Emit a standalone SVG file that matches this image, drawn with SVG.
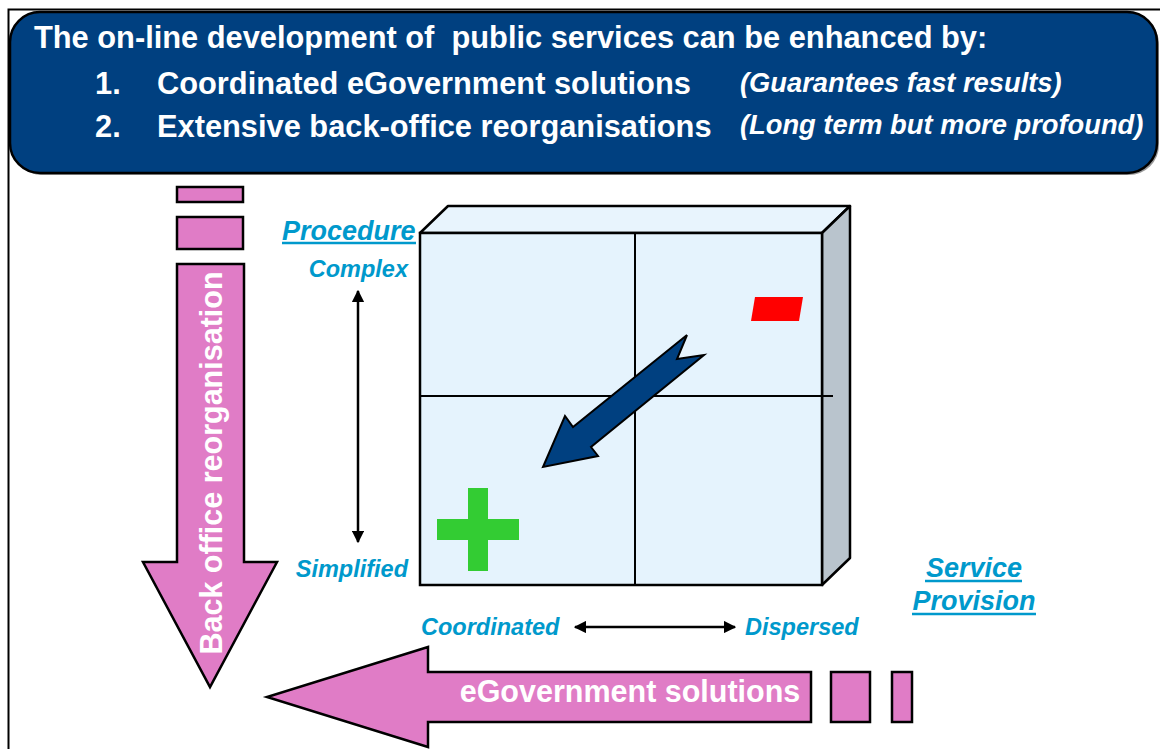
<svg xmlns="http://www.w3.org/2000/svg" width="1160" height="749" viewBox="0 0 1160 749">
<style>
.hdr{font-family:"Liberation Sans",Arial,sans-serif;font-weight:bold;fill:#fff;font-size:30.8px}
.hdri{font-family:"Liberation Sans",Arial,sans-serif;font-weight:bold;font-style:italic;fill:#fff;font-size:27.3px}
.lbl{font-family:"Liberation Sans",Arial,sans-serif;font-weight:bold;font-style:italic;fill:#0099CC;font-size:23.5px}
.ttl{font-family:"Liberation Sans",Arial,sans-serif;font-weight:bold;font-style:italic;fill:#0099CC;font-size:27px}
.pink{fill:#E07CC6;stroke:#000;stroke-width:2.5;stroke-linejoin:miter}
.wt{font-family:"Liberation Sans",Arial,sans-serif;font-weight:bold;fill:#fff;font-size:30.5px}
.ln{stroke:#000;stroke-width:2.5;fill:none}
.ul{stroke:#0099CC;stroke-width:2.5}
</style>
<defs>
<marker id="ah" viewBox="0 0 10 10" refX="9" refY="5" markerWidth="5" markerHeight="5" orient="auto-start-reverse" markerUnits="strokeWidth">
<path d="M0,0 L10,5 L0,10 Z" fill="#000"/>
</marker>
</defs>
<rect width="1160" height="749" fill="#fff"/>
<!-- frame -->
<path d="M8.5,749 V9.5 H1160" fill="none" stroke="#000" stroke-width="2"/>

<g id="header">
<rect x="12" y="14" width="1147" height="161" rx="30" ry="30" fill="#999"/>
<rect x="10" y="12" width="1147" height="161" rx="30" ry="30" fill="#004080" stroke="#000" stroke-width="2.5"/>
<text class="hdr" x="34" y="48" xml:space="preserve">The on-line development of  public services can be enhanced by:</text>
<text class="hdr" x="95" y="94">1.</text>
<text class="hdr" x="157" y="94">Coordinated eGovernment solutions</text>
<text class="hdri" x="740" y="92">(Guarantees fast results)</text>
<text class="hdr" x="95" y="137">2.</text>
<text class="hdr" x="157" y="137">Extensive back-office reorganisations</text>
<text class="hdri" x="740" y="134">(Long term but more profound)</text>
</g>

<g id="back-office-arrow">
<rect class="pink" x="177" y="187" width="66" height="15"/>
<rect class="pink" x="177" y="217" width="66" height="32"/>
<polygon class="pink" points="177,264 244,264 244,562 277,562 210,687 143,562 177,562"/>
<text class="wt" transform="translate(222,463) rotate(-90)" text-anchor="middle">Back office reorganisation</text>
</g>

<g id="egov-arrow">
<rect class="pink" x="831" y="672" width="39" height="50"/>
<rect class="pink" x="892" y="672" width="20" height="50"/>
<polygon class="pink" points="811,672 811,722 428,722 428,747 267,697 428,647 428,672"/>
<text class="wt" x="630" y="702" text-anchor="middle">eGovernment solutions</text>
</g>

<g id="cube">
<polygon points="420,233 448,206 850,206 822,233" fill="#E8F4FD" stroke="#000" stroke-width="2.5" stroke-linejoin="round"/>
<polygon points="822,233 850,206 850,558 822,585" fill="#B9C4CD" stroke="#000" stroke-width="2.5" stroke-linejoin="round"/>
<rect x="420" y="233" width="402" height="352" fill="#E5F3FD" stroke="#000" stroke-width="2.5"/>
<line x1="635" y1="233" x2="635" y2="585" stroke="#000" stroke-width="2"/>
<line x1="420" y1="396" x2="833" y2="396" stroke="#000" stroke-width="2"/>
<polygon points="755,297 803,297 799,321 751,321" fill="#FF0000"/>
<rect x="468" y="488" width="20" height="83" fill="#33CC33"/>
<rect x="437" y="519" width="82" height="21" fill="#33CC33"/>
<polygon points="687,335 677,359 704,355 591,447 598,456 543,467 565,416 573,427" fill="#004080" stroke="#000" stroke-width="2" stroke-linejoin="miter"/>
</g>

<g id="procedure-axis">
<text class="ttl" x="282" y="240">Procedure</text>
<line class="ul" x1="282" y1="243" x2="416" y2="243"/>
<text class="lbl" x="408" y="277" text-anchor="end">Complex</text>
<text class="lbl" x="408" y="577" text-anchor="end">Simplified</text>
</g>

<g id="service-axis">
<text class="ttl" x="974" y="577" text-anchor="middle">Service</text>
<line class="ul" x1="925" y1="581" x2="1022" y2="581"/>
<text class="ttl" x="974" y="610" text-anchor="middle">Provision</text>
<line class="ul" x1="912" y1="614" x2="1036" y2="614"/>
<text class="lbl" x="421" y="635">Coordinated</text>
<text class="lbl" x="745" y="635">Dispersed</text>
</g>

<g id="connectors">
<line class="ln" x1="358" y1="291" x2="358" y2="542" marker-start="url(#ah)" marker-end="url(#ah)"/>
<line class="ln" x1="575" y1="627" x2="735" y2="627" marker-start="url(#ah)" marker-end="url(#ah)"/>
</g>
</svg>
